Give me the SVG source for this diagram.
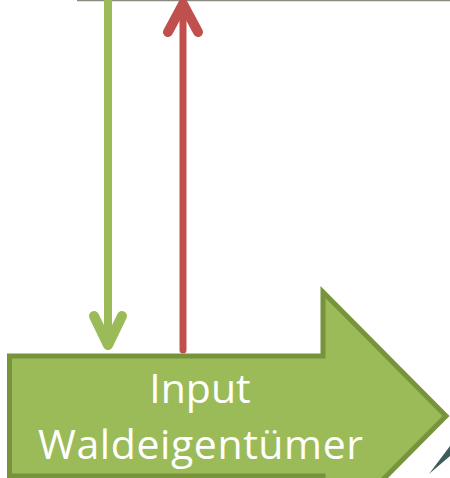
<svg xmlns="http://www.w3.org/2000/svg" width="450" height="478" viewBox="0 0 450 478">
<style>
.lbl{font-family:"Open Sans","Noto Sans","Liberation Sans",sans-serif;font-size:41px;fill:#ffffff;text-anchor:middle}
.g{stroke:#9BBB59;fill:none;stroke-linecap:round;stroke-linejoin:round}
.r{stroke:#C0504D;fill:none;stroke-linecap:round;stroke-linejoin:round}
</style>
<rect width="450" height="478" fill="#ffffff"/>
<g id="top-edge">
<line x1="77" y1="0.5" x2="450" y2="0.5" stroke="#8a8a80" stroke-width="1.5"/>
</g>
<g id="connectors">
<g id="down-arrow">
<line class="g" x1="108" y1="-2" x2="108" y2="344" stroke-width="8" stroke-linecap="butt"/>
<polyline class="g" points="94,316 108,345 122,316" stroke-width="10"/>
</g>
<g id="up-arrow">
<line class="r" x1="183" y1="4" x2="183" y2="350" stroke-width="7" stroke-linecap="butt"/>
<polyline class="r" points="168,32 183,4 198,32" stroke-width="10"/>
</g>
</g>
<g id="node-input">
<polygon points="9.5,356 323,356 323,292 446,416 323,540 323,476 9.5,476" fill="#9BBB59" stroke="#77933C" stroke-width="5"/>
<text class="lbl" x="200" y="403">Input</text>
<text class="lbl" x="200.5" y="459" textLength="325" lengthAdjust="spacing">Waldeigentümer</text>
</g>
<g id="corner">
<polygon points="429,474 450,446 450,456" fill="#3F5B5B"/>
</g>
</svg>
